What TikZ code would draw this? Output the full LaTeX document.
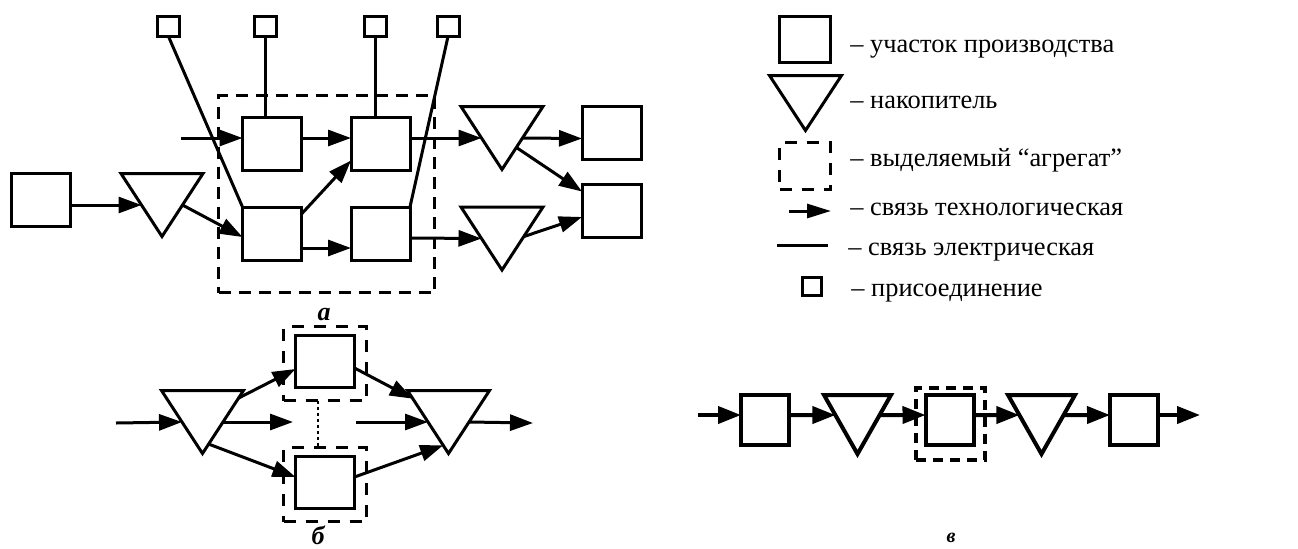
\documentclass[tikz,border=0pt]{standalone}
\usepackage{fontspec}
\setmainfont{Liberation Serif}
\usetikzlibrary{arrows.meta,calc}

% A storage triangle (pointing down) built on an invisible rectangular node:
% #1 name, #2 x, #3 y, #4 width, #5 height, #6 line width
\newcommand\drawtri[6]{%
  \node[tribase, minimum width=#4, minimum height=#5] (#1) at (#2,#3) {};
  \draw[line width=#6, line join=miter] (#1.north west) -- (#1.north east) -- (#1.south) -- cycle;
}

\begin{document}
\begin{tikzpicture}[x=0.5pt, y=-0.5pt,
  box/.style={draw, line width=1.5pt, inner sep=0pt, outer sep=0pt,
              minimum width=29.5pt, minimum height=26.5pt},
  vbox/.style={draw, line width=2pt, inner sep=0pt, outer sep=0pt,
              minimum width=24pt, minimum height=25pt},
  pin/.style={draw, line width=1.5pt, inner sep=0pt, outer sep=0pt,
              minimum width=11pt, minimum height=10pt},
  tribase/.style={inner sep=0pt, outer sep=0pt},
  agg/.style={draw, line width=1.5pt, dash pattern=on 6pt off 4pt,
              inner sep=0pt, outer sep=0pt},
  flow/.style={line width=1.5pt, -{Triangle[length=11.5pt, width=8pt]}},
  vflow/.style={line width=2pt, -{Triangle[length=11.5pt, width=8.5pt]}},
  elec/.style={line width=1.5pt},
  lbl/.style={font=\fontsize{13.2pt}{15pt}\selectfont, anchor=base west, inner sep=0pt},
  figlabel/.style={font=\fontsize{13pt}{15pt}\selectfont\bfseries\itshape, inner sep=0pt}
]
\useasboundingbox (0,0) rectangle (1298,548);

% ---------------- a: production line with a selected aggregate ----------------
\node[agg, minimum width=108pt, minimum height=98.5pt] (agg) at (326.5,194) {};

\node[box] (src) at (40.5,200) {};
\drawtri{t1}{162}{205}{41pt}{31.5pt}{1.5pt}
\node[box] (a1) at (272,144) {};
\node[box] (a2) at (380.5,144) {};
\node[box] (b1) at (272,233.5) {};
\node[box] (b2) at (380.5,233.5) {};
\drawtri{t2}{502}{138}{41pt}{31.5pt}{1.5pt}
\drawtri{t3}{502}{238.5}{41pt}{31.5pt}{1.5pt}
\node[box] (r1) at (611.5,132.5) {};
\node[box] (r2) at (611.5,210.5) {};

\node[pin] (s1) at (168.5,26.5) {};
\node[pin] (s2) at (265.5,26.5) {};
\node[pin] (s3) at (375,26.5) {};
\node[pin] (s4) at (448,26.5) {};
\coordinate (feed) at (181,138);

% technological links
\draw[flow] ([yshift=-2.5pt]src.east) -- ($(t1.north west)!.5!(t1.south)$);
\draw[flow] ($(t1.north east)!.5!(t1.south)$) -- ([yshift=-1.75pt]b1.west);
\draw[flow] (feed) -- ([yshift=3pt]a1.west);
\draw[flow] ([yshift=3pt]a1.east) -- ([yshift=3pt]a2.west);
\draw[flow] ([yshift=-3.5pt]b1.north east) -- ([yshift=5pt]a2.south west);
\draw[flow] ([yshift=-7.25pt]b1.east) -- ([yshift=-7.25pt]b2.west);
\draw[flow] ([yshift=3pt]a2.east) -- ($(t2.north west)!.5!(t2.south)$);
\draw[flow] ([yshift=-2.25pt]b2.east) -- ($(t3.north west)!.5!(t3.south)$);
\draw[flow] ($(t2.north east)!.5!(t2.south)$) -- ([yshift=-3pt]r1.west);
\draw[flow] ($(t2.north east)!.65!(t2.south)$) -- ([yshift=-3.75pt]r2.north west);
\draw[flow] ($(t3.north east)!.47!(t3.south)$) -- ([yshift=-3.25pt]r2.west);

% electrical links
\draw[elec] (s1.south) -- (b1.north west);
\draw[elec] (s2.south) -- (s2.south |- a1.north);
\draw[elec] (s3.south) -- (s3.south |- a2.north);
\draw[elec] (s4.south) -- (b2.north east);

\node[figlabel] (capa) at (324,315) {а};

% ---------------- b: parallel sections between two storages ----------------
\drawtri{bl}{202.5}{422}{41pt}{31.5pt}{1.5pt}
\drawtri{br}{448.5}{422}{41pt}{31.5pt}{1.5pt}
\node[box, minimum height=26pt] (p1) at (325,361.5) {};
\node[box, minimum height=26pt] (p2) at (325,482.5) {};
\node[agg, dash pattern=on 6pt off 5pt, minimum width=41.5pt, minimum height=37pt] (d1) at (325,363.5) {};
\node[agg, dash pattern=on 6pt off 5pt, minimum width=41.5pt, minimum height=37pt] (d2) at (325,484.5) {};
\draw[line width=1pt, dash pattern=on 1.5pt off 1.5pt] ([xshift=-3.5pt]d1.south) -- ([xshift=-3.5pt]d2.north);

\coordinate (bin) at (116,423);
\coordinate (gapl) at (293,422);
\coordinate (gapr) at (356,422);
\coordinate (bout) at (533,423);
\draw[flow] (bin) -- ($(bl.north west)!.5!(bl.south)$);
\draw[flow] ($(bl.north east)!.12!(bl.south)$) -- ([yshift=-3.75pt]p1.west);
\draw[flow] ($(bl.north east)!.5!(bl.south)$) -- (gapl);
\draw[flow] ($(bl.north east)!.85!(bl.south)$) -- ([yshift=2.75pt]p2.west);
\draw[flow] ([yshift=-3.25pt]p1.east) -- ($(br.north west)!.13!(br.south)$);
\draw[flow] (gapr) -- ($(br.north west)!.5!(br.south)$);
\draw[flow] ([yshift=2.75pt]p2.east) -- ($(br.north west)!.87!(br.south)$);
\draw[flow] ($(br.north east)!.5!(br.south)$) -- (bout);

\node[figlabel] (capb) at (318,535) {б};

% ---------------- c: serial line with one selected section ----------------
\node[vbox] (v1) at (765,420) {};
\drawtri{w1}{857.5}{424.5}{33.5pt}{29.5pt}{2pt}
\node[vbox] (v2) at (949.5,420) {};
\node[agg, line width=2pt, dash pattern=on 5pt off 3.5pt, minimum width=34.5pt, minimum height=36pt] (d3) at (950.5,424) {};
\drawtri{w2}{1041.5}{424.5}{33.5pt}{29.5pt}{2pt}
\node[vbox] (v3) at (1134,420) {};
\coordinate (vin) at (698,415);
\coordinate (vout) at (1200,415);

\draw[vflow] (vin) -- ([yshift=2.5pt]v1.west);
\draw[vflow] ([yshift=2.5pt]v1.east) -- ($(w1.north west)!.34!(w1.south)$);
\draw[vflow] ($(w1.north east)!.34!(w1.south)$) -- ([yshift=2.5pt]v2.west);
\draw[vflow] ([yshift=2.5pt]v2.east) -- ($(w2.north west)!.34!(w2.south)$);
\draw[vflow] ($(w2.north east)!.34!(w2.south)$) -- ([yshift=2.5pt]v3.west);
\draw[vflow] ([yshift=2.5pt]v3.east) -- (vout);

\node[figlabel, font=\fontsize{10pt}{12pt}\selectfont\bfseries\itshape] (capv) at (951,538) {в};

% ---------------- legend ----------------
\node[box, minimum width=25.5pt, minimum height=23pt] (kbox) at (805,39.5) {};
\drawtri{ktri}{805.5}{103}{36pt}{27.5pt}{1.5pt}
\node[agg, dash pattern=on 6pt off 5pt, minimum width=25.5pt, minimum height=23.5pt] (kagg) at (805,166) {};
\coordinate (kfa) at (789,211);
\coordinate (kfb) at (831,211);
\draw[line width=1.5pt, -{Triangle[length=12pt, width=7pt]}] (kfa) -- (kfb);
\coordinate (kea) at (777,245);
\coordinate (keb) at (828,245);
\draw[elec] (kea) -- (keb);
\node[pin, minimum width=9.5pt, minimum height=9pt] (kpin) at (812,286.5) {};

\node[lbl] (tbox) at (850,52) {– участок производства};
\node[lbl] (ttri) at (850,108) {– накопитель};
\node[lbl] (tagg) at (850,166) {– выделяемый “агрегат”};
\node[lbl] (tflow) at (850,215) {– связь технологическая};
\node[lbl] (telec) at (848,255) {– связь электрическая};
\node[lbl] (tpin) at (851,296) {– присоединение};
\end{tikzpicture}
\end{document}
